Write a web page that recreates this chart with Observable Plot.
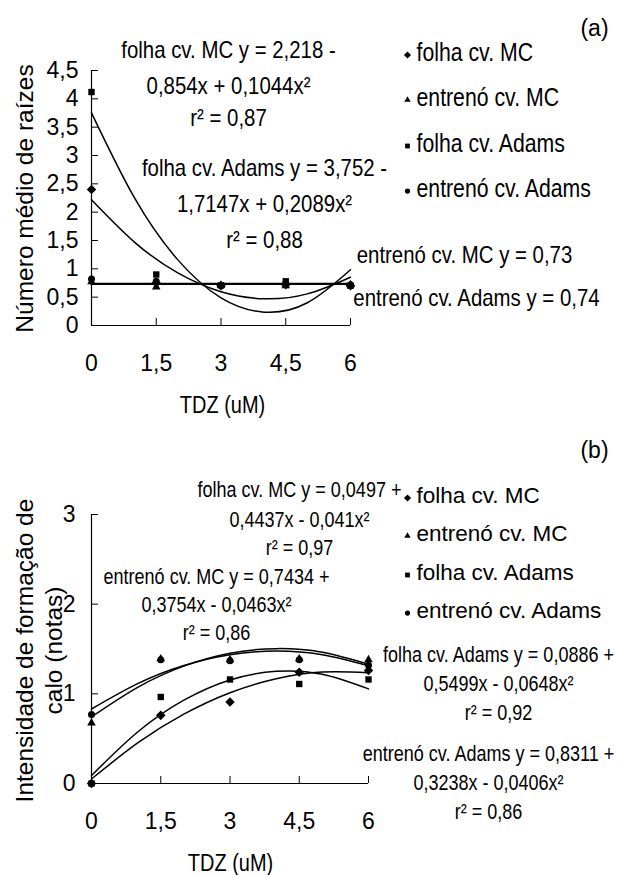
<!DOCTYPE html>
<html><head><meta charset="utf-8">
<script src="https://cdn.jsdelivr.net/npm/d3@7"></script>
<script src="https://cdn.jsdelivr.net/npm/@observablehq/plot@0.6"></script>
<style>html,body{margin:0;padding:0;background:#fff;} #chart{width:620px;}</style>
</head><body><div id="chart"></div>
<script>
// ---------- data ----------
const doses = [0, 1.5, 3, 4.5, 6];
const doseLabels = ["0", "1,5", "3", "4,5", "6"];
const seriesNames = ["folha cv. MC", "entrenó cv. MC", "folha cv. Adams", "entrenó cv. Adams"];

// (a) Número médio de raízes
const rootsTicks = [0, 0.5, 1, 1.5, 2, 2.5, 3, 3.5, 4, 4.5];
const rootsTickLabels = ["0", "0,5", "1", "1,5", "2", "2,5", "3", "3,5", "4", "4,5"];
const rootsFolhaMC = [2.4, 0.75, 0.7, 0.72, 0.7];
const rootsEntrenoMC = [0.77, 0.68, 0.71, 0.7, 0.72];
const rootsFolhaAdams = [4.12, 0.9, 0.71, 0.78, 0.7];
const rootsEntrenoAdams = [0.82, 0.78, 0.7, 0.74, 0.72];
// fitted trend lines
const fitX = [0, 1, 2, 3, 4, 5, 6];
const rootsFitFolhaMC = [2.218, 1.468, 0.928, 0.596, 0.472, 0.558, 0.852];
const rootsFitFolhaAdams = [3.752, 2.246, 1.158, 0.488, 0.236, 0.401, 0.984];
const flatX = [0, 6];
const rootsFitEntrenoMC = [0.73, 0.73];
const rootsFitEntrenoAdams = [0.74, 0.74];
const rootsEquations = [
  ["folha cv. MC y = 2,218 -", "0,854x + 0,1044x²", "r² = 0,87"],
  ["folha cv. Adams y = 3,752 -", "1,7147x + 0,2089x²", "r² = 0,88"],
  ["entrenó cv. MC y = 0,73"],
  ["entrenó cv. Adams y = 0,74"]
];

// (b) Intensidade de formação de calo (notas)
const callusTicks = [0, 1, 2, 3];
const callusTickLabels = ["0", "1", "2", "3"];
const callusFolhaMC = [0, 0.76, 0.91, 1.24, 1.26];
const callusEntrenoMC = [0.675, 1.39, 1.38, 1.39, 1.38];
const callusFolhaAdams = [0, 0.965, 1.16, 1.11, 1.16];
const callusEntrenoAdams = [0.77, 1.38, 1.37, 1.38, 1.32];
const callusFitFolhaMC = [0.050, 0.452, 0.773, 1.012, 1.169, 1.243, 1.236];
const callusFitEntrenoMC = [0.743, 1.073, 1.309, 1.453, 1.504, 1.463, 1.329];
const callusFitFolhaAdams = [0.089, 0.574, 0.929, 1.155, 1.251, 1.218, 1.055];
const callusFitEntrenoAdams = [0.831, 1.114, 1.316, 1.437, 1.477, 1.435, 1.312];
const callusEquations = [
  ["folha cv. MC y = 0,0497 +", "0,4437x - 0,041x²", "r² = 0,97"],
  ["entrenó cv. MC y = 0,7434 +", "0,3754x - 0,0463x²", "r² = 0,86"],
  ["folha cv. Adams y = 0,0886 +", "0,5499x - 0,0648x²", "r² = 0,92"],
  ["entrenó cv. Adams y = 0,8311 +", "0,3238x - 0,0406x²", "r² = 0,86"]
];

// ---------- layout / style ----------
const FONT = "'Liberation Sans', Arial, Helvetica, sans-serif";
const K = 0.85; // horizontal condensing of the narrow (Excel-like) labels

const symbols = ["diamond2", "triangle", "square", "circle"];
const symR = [4.3, 3.2, 3.6, 3.5];
const A = {ml: 91, mr: 270, mt: 70, mb: 105, h: 430, top: 0};
const B = {ml: 91, mr: 252, mt: 84, mb: 92, h: 445, top: 430};

const toPts = (xs, ys) => xs.map((x, i) => ({x, y: ys[i]}));

function txt(P, s, px, py, o = {}) {
  return Plot.text([s], {text: d => d, frameAnchor: "top-left",
    dx: px - P.ml, dy: py - P.top - P.mt,
    textAnchor: "middle", lineAnchor: "middle", fill: "black",
    fontFamily: FONT, fontSize: 20, ...o});
}
const nar = (P, s, px, py, o = {}) => txt(P, s, px, py, {ariaDescription: "narrow", ...o});
function sym(P, symbol, px, py, r) {
  return Plot.dot([0], {frameAnchor: "top-left", dx: px - P.ml, dy: py - P.top - P.mt,
    symbol, r, fill: "black", stroke: "none"});
}
function frame(P, yTicks) {
  const fw = 620 - P.ml - P.mr, fh = P.h - P.mt - P.mb;
  return [
    Plot.ruleX([0], {stroke: "black", strokeWidth: 1.2}),
    Plot.ruleY([0], {stroke: "black", strokeWidth: 1.2}),
    Plot.ruleY(yTicks, {y: d => d, insetRight: fw - 7, stroke: "black", strokeWidth: 1}),
    Plot.ruleX(doses, {x: d => d, insetTop: fh - 7, stroke: "black", strokeWidth: 1})
  ];
}
function curve(xs, ys, w = 1.5) {
  return Plot.line(toPts(xs, ys), {x: "x", y: "y", stroke: "black", strokeWidth: w, curve: "natural"});
}
function points(ys, i) {
  return Plot.dot(toPts(doses, ys), {x: "x", y: "y", symbol: symbols[i], r: symR[i], fill: "black", stroke: "none"});
}
// condense narrow labels horizontally once they are laid out
function condense(svg, k) {
  svg.querySelectorAll('[aria-description="narrow"] text').forEach(t => {
    const len = t.getComputedTextLength();
    if (len > 0) {
      t.setAttribute("lengthAdjust", "spacingAndGlyphs");
      t.setAttribute("textLength", (len * k).toFixed(2));
    }
  });
}

// ---------- panel (a) ----------
const legA = [52, 97, 143, 188];
const plotA = Plot.plot({
  width: 620, height: A.h,
  marginLeft: A.ml, marginRight: A.mr, marginTop: A.mt, marginBottom: A.mb,
  style: {fontFamily: FONT, fontSize: "23px", color: "black", background: "white", overflow: "visible"},
  x: {domain: [0, 6], ticks: doses, tickFormat: d => doseLabels[doses.indexOf(d)], tickSize: 0, tickPadding: 29, label: null},
  y: {domain: [0, 4.5], ticks: rootsTicks, tickFormat: d => rootsTickLabels[rootsTicks.indexOf(d)], tickSize: 0, tickPadding: 13, label: null},
  marks: [
    ...frame(A, rootsTicks),
    curve(fitX, rootsFitFolhaMC),
    curve(fitX, rootsFitFolhaAdams),
    curve(flatX, rootsFitEntrenoMC, 1.8),
    curve(flatX, rootsFitEntrenoAdams, 1.8),
    points(rootsFolhaMC, 0), points(rootsEntrenoMC, 1), points(rootsFolhaAdams, 2), points(rootsEntrenoAdams, 3),
    ...seriesNames.map((s, i) => nar(A, s, 416, legA[i], {textAnchor: "start", fontSize: 25})),
    ...seriesNames.map((s, i) => sym(A, symbols[i], 407, legA[i] + 2.5, symR[i] * 0.75)),
    txt(A, "(a)", 594, 28, {fontSize: 23}),
    ...rootsEquations[0].map((s, i) => nar(A, s, 228, [50, 86, 118][i], {fontSize: 24})),
    ...rootsEquations[1].map((s, i) => nar(A, s, 264, [168, 204, 240][i], {fontSize: 24})),
    nar(A, rootsEquations[2][0], 464, 255, {fontSize: 24}),
    nar(A, rootsEquations[3][0], 476, 298, {fontSize: 24}),
    nar(A, "TDZ (uM)", 222, 405, {fontSize: 23.5}),
    txt(A, "Número médio de raízes", 25, 198, {fontSize: 24.5, rotate: -90})
  ]
});

// ---------- panel (b) ----------
const legB = [495, 533, 572, 610];
const plotB = Plot.plot({
  width: 620, height: B.h,
  marginLeft: B.ml, marginRight: B.mr, marginTop: B.mt, marginBottom: B.mb,
  style: {fontFamily: FONT, fontSize: "23px", color: "black", background: "white", overflow: "visible"},
  x: {domain: [0, 6], ticks: doses, tickFormat: d => doseLabels[doses.indexOf(d)], tickSize: 0, tickPadding: 29, label: null},
  y: {domain: [0, 3], ticks: callusTicks, tickFormat: d => callusTickLabels[callusTicks.indexOf(d)], tickSize: 0, tickPadding: 16, label: null},
  marks: [
    ...frame(B, callusTicks),
    curve(fitX, callusFitFolhaMC),
    curve(fitX, callusFitEntrenoMC),
    curve(fitX, callusFitFolhaAdams),
    curve(fitX, callusFitEntrenoAdams),
    points(callusFolhaMC, 0), points(callusEntrenoMC, 1), points(callusFolhaAdams, 2), points(callusEntrenoAdams, 3),
    ...seriesNames.map((s, i) => txt(B, s, 416, legB[i], {textAnchor: "start", fontSize: 22.5})),
    ...seriesNames.map((s, i) => sym(B, symbols[i], 407, legB[i] + 2.5, symR[i] * 0.75)),
    txt(B, "(b)", 594, 450, {fontSize: 23}),
    ...callusEquations[0].map((s, i) => nar(B, s, 299, [490, 520, 548][i], {fontSize: 21.2})),
    ...callusEquations[1].map((s, i) => nar(B, s, 216, [577, 605, 633][i], {fontSize: 21.2})),
    ...callusEquations[2].map((s, i) => nar(B, s, 498, [655, 684, 713][i], {fontSize: 21.2})),
    ...callusEquations[3].map((s, i) => nar(B, s, 488, [754, 783, 812][i], {fontSize: 21.2})),
    nar(B, "TDZ (uM)", 230, 863, {fontSize: 23.5}),
    txt(B, "Intensidade de formação de\ncalo (notas)", 38, 650, {fontSize: 24.5, rotate: -90, lineHeight: 1.15})
  ]
});

const root = document.getElementById("chart");
root.appendChild(plotA);
root.appendChild(plotB);
condense(plotA, K);
condense(plotB, K);
</script>
</body></html>
